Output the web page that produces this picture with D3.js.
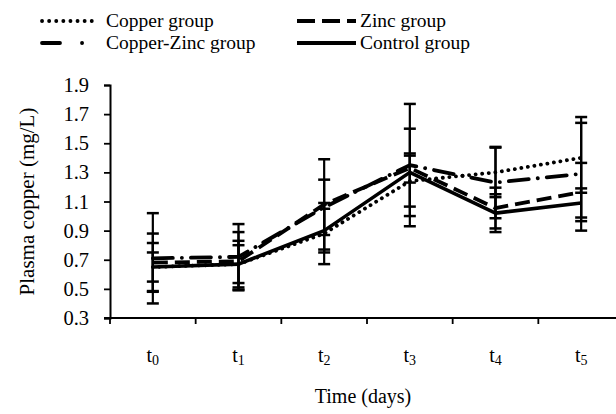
<!DOCTYPE html>
<html><head><meta charset="utf-8">
<script src="https://cdn.jsdelivr.net/npm/d3@7"></script>
<style>body{margin:0;background:#fff}svg{display:block}svg text{font-family:"Liberation Serif","Tinos","Times New Roman","DejaVu Serif",serif;}</style>
</head><body><svg id="c" width="616" height="414"></svg>
<script>
const times = ["t0","t1","t2","t3","t4","t5"];
const timeSubs = ["0","1","2","3","4","5"];
const yTicks = [0.3,0.5,0.7,0.9,1.1,1.3,1.5,1.7,1.9];
const seriesNames = ["Copper group","Zinc group","Copper-Zinc group","Control group"];
const copperMean  = [0.65,0.67,0.88,1.24,1.30,1.40];
const copperSd    = [0.10,0.13,0.21,0.175,0.17,0.24];
const zincMean    = [0.68,0.69,1.08,1.33,1.055,1.165];
const zincSd      = [0.20,0.20,0.31,0.10,0.14,0.20];
const cuznMean    = [0.71,0.72,1.06,1.35,1.23,1.29];
const cuznSd      = [0.31,0.225,0.19,0.42,0.245,0.39];
const controlMean = [0.65,0.67,0.90,1.30,1.02,1.09];
const controlSd   = [0.165,0.16,0.15,0.30,0.13,0.10];

const styles = [
  {dash:"0.1,6.5", cap:"round", w:3.8, legDash:"0.1,7"},
  {dash:"15,7", cap:"butt", w:3.8, legDash:"18,7"},
  {dash:"20,9,0.1,9", cap:"round", w:3.8, legDash:"18,22,0.1,30"},
  {dash:null, cap:"butt", w:3.6, legDash:null}
];
const series = [
  {name:seriesNames[0], mean:copperMean, sd:copperSd},
  {name:seriesNames[1], mean:zincMean, sd:zincSd},
  {name:seriesNames[2], mean:cuznMean, sd:cuznSd},
  {name:seriesNames[3], mean:controlMean, sd:controlSd}
];

const svg = d3.select("#c");
const x = d3.scaleBand().domain(times).range([110, 624]).padding(0);
const y = d3.scaleLinear().domain([0.3, 1.9]).range([318, 85]);

// y axis
const yAxis = svg.append("g").attr("transform","translate(110,0)")
  .call(d3.axisLeft(y).tickValues(yTicks).tickFormat(d3.format(".1f")).tickSizeOuter(0).tickSize(6).tickPadding(15));
yAxis.attr("font-family",null);
yAxis.select(".domain").attr("stroke","#000").attr("stroke-width",2);
yAxis.selectAll(".tick line").attr("stroke","#000").attr("stroke-width",1.8);
yAxis.selectAll("text").attr("font-size",20.5).attr("fill","#000");

// x axis line and boundary ticks
const xg = svg.append("g");
xg.append("line").attr("x1", x.range()[0]-6).attr("x2", x.range()[1]).attr("y1", y(0.3)).attr("y2", y(0.3))
  .attr("stroke","#000").attr("stroke-width",2);
const bounds = times.map(t => x(t)).concat([x.range()[1]]);
xg.selectAll(".xt").data(bounds).join("line")
  .attr("x1", d=>d).attr("x2", d=>d).attr("y1", y(0.3)).attr("y2", y(0.3)+6)
  .attr("stroke","#000").attr("stroke-width",1.8);
const xl = xg.selectAll(".xl").data(times).join("text")
  .attr("x", d => x(d)+x.bandwidth()/2).attr("y", 362)
  .attr("text-anchor","middle").attr("font-size",20).attr("fill","#000");
xl.append("tspan").text("t");
xl.append("tspan").attr("font-size",14).attr("dy",3).text((d,i)=>timeSubs[i]);

// axis titles
svg.append("text").attr("x", 363).attr("y", 403).attr("text-anchor","middle")
  .attr("font-size",20).text("Time (days)");
svg.append("text").attr("transform",`translate(34,${(y(0.3)+y(1.9))/2}) rotate(-90)`).attr("text-anchor","middle")
  .attr("font-size",21).text("Plasma copper (mg/L)");

const cx = d => x(d)+x.bandwidth()/2;

// error bars
series.forEach(s => {
  const g = svg.append("g");
  times.forEach((t,i) => {
    const hi = y(s.mean[i]+s.sd[i]), lo = y(s.mean[i]-s.sd[i]);
    g.append("line").attr("x1",cx(t)).attr("x2",cx(t)).attr("y1",hi).attr("y2",lo).attr("stroke","#000").attr("stroke-width",2.2);
    [hi,lo].forEach(v => g.append("line").attr("x1",cx(t)-6).attr("x2",cx(t)+6).attr("y1",v).attr("y2",v).attr("stroke","#000").attr("stroke-width",2.5));
  });
});

// lines
const line = d3.line().x((d,i)=>cx(times[i])).y(d=>y(d));
series.forEach((s,k) => {
  const st = styles[k];
  const p = svg.append("path").attr("d", line(s.mean)).attr("fill","none").attr("stroke","#000")
    .attr("stroke-width", st.w).attr("stroke-linecap", st.cap).attr("stroke-linejoin","round");
  if (st.dash) p.attr("stroke-dasharray", st.dash);
});

// legend
const legPos = [
  {x1:42, x2:97, tx:106, y:21},
  {x1:297, x2:356, tx:360, y:21},
  {x1:42, x2:88, tx:106, y:43},
  {x1:297, x2:356, tx:360, y:43}
];
series.forEach((s,k) => {
  const st = styles[k], p = legPos[k];
  const l = svg.append("line").attr("x1",p.x1).attr("x2",p.x2).attr("y1",p.y).attr("y2",p.y)
    .attr("stroke","#000").attr("stroke-width", 3.8).attr("stroke-linecap", st.cap);
  if (st.legDash) l.attr("stroke-dasharray", st.legDash);
  svg.append("text").attr("x",p.tx).attr("y",p.y+6).attr("font-size",19.5).text(s.name);
});
</script></body></html>
